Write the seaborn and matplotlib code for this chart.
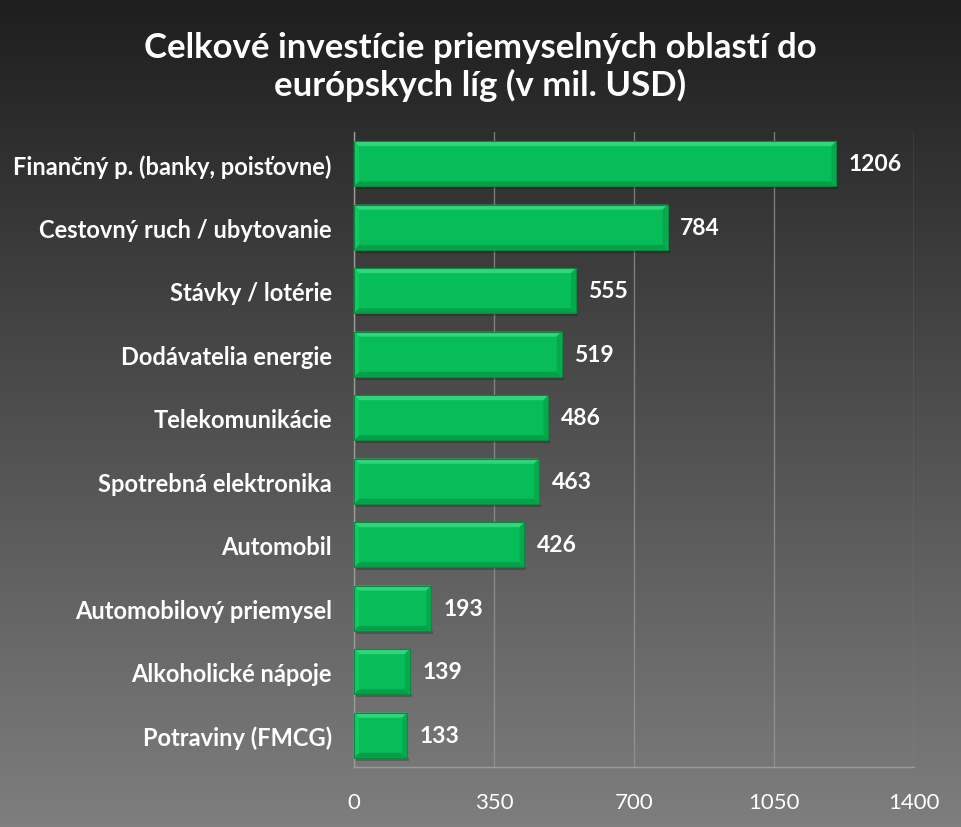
import numpy as np
import pandas as pd
import matplotlib
matplotlib.use("Agg")
import matplotlib.pyplot as plt
from matplotlib.patches import Polygon
import seaborn as sns

categories = [
    "Finančný p. (banky, poisťovne)",
    "Cestovný ruch / ubytovanie",
    "Stávky / lotérie",
    "Dodávatelia energie",
    "Telekomunikácie",
    "Spotrebná elektronika",
    "Automobil",
    "Automobilový priemysel",
    "Alkoholické nápoje",
    "Potraviny (FMCG)",
]
values = [1206, 784, 555, 519, 486, 463, 426, 193, 139, 133]
x_ticks = [0, 350, 700, 1050, 1400]
title = "Celkové investície priemyselných oblastí do\neurópskych líg (v mil. USD)"

sns.set_theme(style="white")
plt.rcParams["font.family"] = ["Lato", "DejaVu Sans"]

df = pd.DataFrame({"category": categories, "value": values})

fig = plt.figure(figsize=(9.61, 8.28), dpi=100)

# gradient background
bg = fig.add_axes([0, 0, 1, 1], zorder=0)
grad = np.linspace(0, 1, 256).reshape(-1, 1)
bg.imshow(grad, aspect="auto", cmap=matplotlib.colors.LinearSegmentedColormap.from_list(
    "bg", ["#1e1e1e", "#7e7e7e"]), extent=[0, 1, 0, 1], origin="upper")
bg.set_axis_off()

ax = fig.add_axes([0.3684, 0.0725, 0.5827, 0.7669], zorder=1)
ax.set_facecolor("none")

green = "#07bd58"
sns.barplot(data=df, x="value", y="category", color=green, saturation=1,
            width=0.71, ax=ax, zorder=3, edgecolor="none")

ax.set_xlim(0, 1400)
ax.set_ylim(len(categories) - 0.5, -0.5)
ax.set_xticks(x_ticks)
ax.set_xticklabels([str(t) for t in x_ticks], color="white", fontsize=16)
ax.set_yticks(np.arange(len(categories) + 1) - 0.5, minor=False)
ax.set_yticklabels([])
ax.set_yticks(np.arange(len(categories)), minor=True)
ax.set_yticklabels(categories, minor=True, color="white", fontsize=17, fontweight="bold")
ax.tick_params(axis="y", which="major", length=8, color="#9a9a9a", width=1)
ax.tick_params(axis="y", which="minor", length=0, pad=16)
ax.tick_params(axis="x", length=9, color="#9a9a9a", width=1, pad=9)
ax.set_xlabel("")
ax.set_ylabel("")
ax.xaxis.grid(True, color="#9a9a9a", linewidth=1, alpha=0.7)
ax.set_axisbelow(True)
for side in ["top", "right"]:
    ax.spines[side].set_visible(False)
for side in ["left", "bottom"]:
    ax.spines[side].set_color("#9a9a9a")
    ax.spines[side].set_linewidth(1)

# bevel effect on each bar, in pixel units
fig.canvas.draw()
inv = ax.transData.inverted()
bev = 5
for p in list(ax.patches):
    x0, y0 = p.get_x(), p.get_y()
    x1, y1 = x0 + p.get_width(), y0 + p.get_height()
    (px0, py0) = ax.transData.transform((x0, y1))
    (px1, py1) = ax.transData.transform((x1, y0))

    def d(pts):
        return inv.transform(pts)
    top = d([(px0, py1), (px1, py1), (px1 - bev, py1 - bev), (px0 + bev, py1 - bev)])
    bot = d([(px0, py0), (px1, py0), (px1 - bev, py0 + bev), (px0 + bev, py0 + bev)])
    left = d([(px0, py0), (px0, py1), (px0 + bev, py1 - bev), (px0 + bev, py0 + bev)])
    right = d([(px1, py0), (px1, py1), (px1 - bev, py1 - bev), (px1 - bev, py0 + bev)])
    shadow = d([(px0 + 2, py0), (px1 + 2, py0), (px1 + 2, py0 - 3), (px0 + 2, py0 - 3)])
    ax.add_patch(Polygon(shadow, closed=True, facecolor="#000000", alpha=0.2,
                         edgecolor="none", zorder=2))
    ax.add_patch(Polygon(top, closed=True, facecolor="#30d67c", edgecolor="none", zorder=4))
    ax.add_patch(Polygon(bot, closed=True, facecolor="#05a049", edgecolor="none", zorder=4))
    ax.add_patch(Polygon(left, closed=True, facecolor="#12c865", edgecolor="none", zorder=4))
    ax.add_patch(Polygon(right, closed=True, facecolor="#06aa4e", edgecolor="none", zorder=4))
    ax.add_patch(Polygon(d([(px0, py0), (px1, py0), (px1, py1), (px0, py1)]), closed=True,
                         facecolor="none", edgecolor="#0a8a3f", linewidth=0.8, zorder=4))

for i, v in enumerate(values):
    ax.annotate(str(v), (v, i), xytext=(9, 0), textcoords="offset points",
                va="center", ha="left", color="white", fontsize=16.5,
                fontweight="bold", zorder=5)

fig.text(0.5, 0.919, title, ha="center", va="center", color="white",
         fontsize=25, fontweight="bold", linespacing=1.2)

fig.savefig("out.png", dpi=100)
